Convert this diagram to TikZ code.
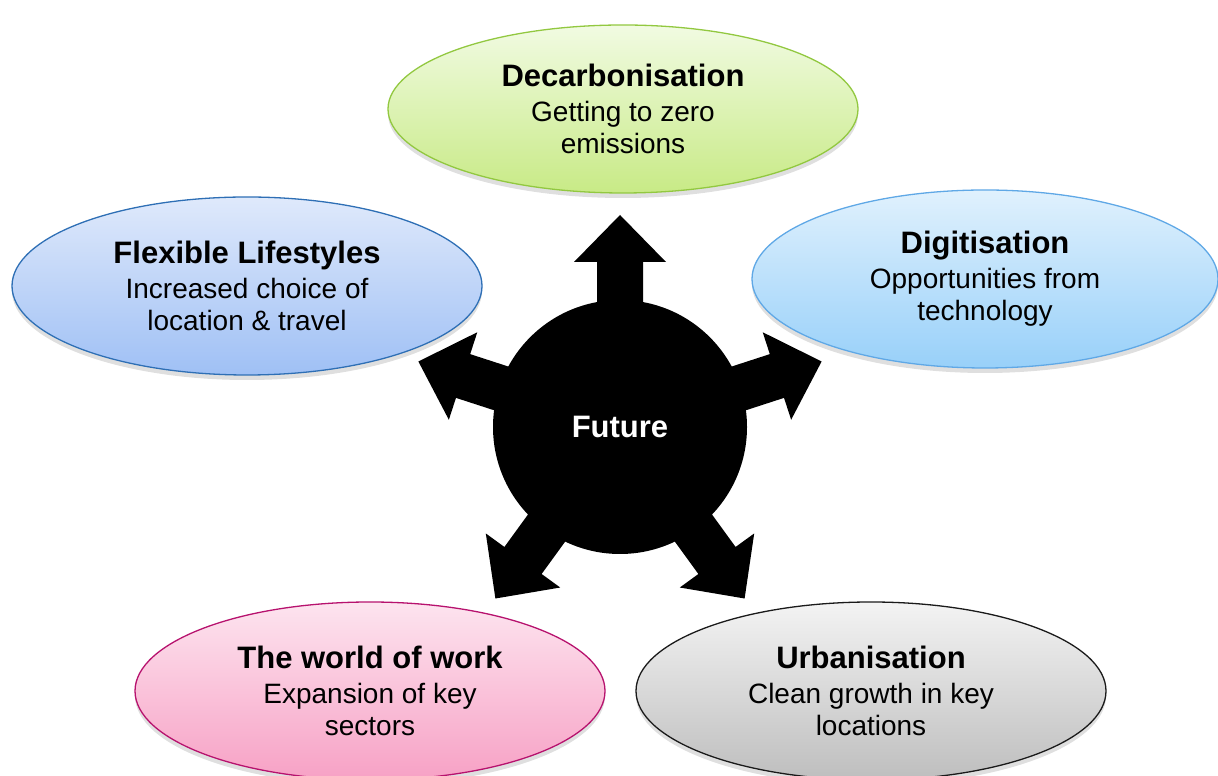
\documentclass[tikz,border=0pt]{standalone}
\usepackage{fontspec}
\setmainfont{Liberation Sans}
\usetikzlibrary{shapes.geometric,shadows}
\definecolor{greenTop}{HTML}{F1FBE2}
\definecolor{greenBot}{HTML}{C8EA86}
\definecolor{greenLine}{HTML}{92C840}
\definecolor{flexTop}{HTML}{DFE9FB}
\definecolor{flexBot}{HTML}{9FC0F5}
\definecolor{flexLine}{HTML}{2E6FB5}
\definecolor{digiTop}{HTML}{E0F1FD}
\definecolor{digiBot}{HTML}{98D0F9}
\definecolor{digiLine}{HTML}{5FA8E6}
\definecolor{pinkTop}{HTML}{FDE4EF}
\definecolor{pinkBot}{HTML}{F7A1C5}
\definecolor{pinkLine}{HTML}{B7126E}
\definecolor{greyTop}{HTML}{F3F3F3}
\definecolor{greyBot}{HTML}{BEBEBE}
\definecolor{greyLine}{HTML}{1A1A1A}
\tikzset{
  bubble/.style={ellipse, draw, line width=1.3pt, minimum width=470pt,
    minimum height=178pt, inner sep=0pt, align=center,
    font=\fontsize{28}{32}\selectfont,
    drop shadow={shadow xshift=0pt, shadow yshift=-5pt, opacity=0.25}},
  hub/.style={circle, fill=black, minimum size=254pt, inner sep=0pt,
    text=white, font=\fontsize{31}{35}\selectfont\bfseries},
  spoke/.style={fill=black}
}
\newcommand{\headline}[1]{{\fontsize{31}{35}\selectfont\bfseries #1}}
\begin{document}
\begin{tikzpicture}[x=1pt,y=1pt]
  \useasboundingbox (0,0) rectangle (1218,776);
  % Mitte
  \node[hub] (future) at (620,349) {Future};
  % Pfeile
  \foreach \ang in {90,18,162,-54,234} {
    \fill[spoke, shift={(future.center)}, rotate=\ang]
      (100,-23) -- (165,-23) -- (165,-46) -- (212,0) -- (165,46)
      -- (165,23) -- (100,23) -- cycle;
  }
  % Ellipsen
  \node[bubble, minimum height=168pt, draw=greenLine, top color=greenTop,
    bottom color=greenBot] (decarb) at (623,667)
    {\headline{Decarbonisation}\\[3pt] Getting to zero\\ emissions};
  \node[bubble, draw=flexLine, top color=flexTop, bottom color=flexBot]
    (flex) at (247,490)
    {\headline{Flexible Lifestyles}\\[3pt] Increased choice of\\ location \& travel};
  \node[bubble, minimum width=466pt, draw=digiLine, top color=digiTop,
    bottom color=digiBot] (digit) at (985,497)
    {\headline{Digitisation}\\[3pt] Opportunities from\\ technology};
  \node[bubble, draw=pinkLine, top color=pinkTop, bottom color=pinkBot]
    (work) at (370,85)
    {\headline{The world of work}\\[3pt] Expansion of key\\ sectors};
  \node[bubble, draw=greyLine, top color=greyTop, bottom color=greyBot]
    (urban) at (871,85)
    {\headline{Urbanisation}\\[3pt] Clean growth in key\\ locations};
\end{tikzpicture}
\end{document}
